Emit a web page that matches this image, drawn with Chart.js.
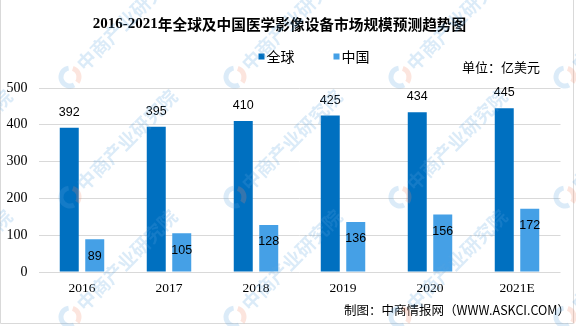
<!DOCTYPE html>
<html>
<head>
<meta charset="utf-8">
<script src="https://cdn.jsdelivr.net/npm/chart.js@4"></script>
<style>
  html, body { margin: 0; padding: 0; background: #fff; }
  #chart { display: block; }
</style>
</head>
<body>
<canvas id="chart" width="576" height="326"></canvas>
<script>
// Market size, 100 million USD
const years = ['2016', '2017', '2018', '2019', '2020', '2021E'];
const globalValues = [392, 395, 410, 425, 434, 445];
const chinaValues = [89, 105, 128, 136, 156, 172];
const seriesNames = ['全球', '中国'];
const yTicks = [0, 100, 200, 300, 400, 500];

const titleNum = '2016-2021';
const titleText = '年全球及中国医学影像设备市场规模预测趋势图';
const unitText = '单位：亿美元';
const sourceText = '制图：中商情报网（WWW.ASKCI.COM）';
const watermarkText = '中商产业研究院';

const colors = ['#0070C0', '#45A0E6'];
const cjk = '"Noto Sans CJK SC", "Microsoft YaHei", sans-serif';

// Title, legend, unit note, source line and frame
const decorPlugin = {
    id: 'decor',
    afterDraw(chart) {
        const ctx = chart.ctx;
        ctx.save();

        // title: number part and text part with different fonts
        ctx.textBaseline = 'middle';
        ctx.fillStyle = '#000';
        const numFont = 'bold 15px "Liberation Serif", serif';
        const txtFont = 'bold 14.7px ' + cjk;
        ctx.font = numFont;
        const w1 = ctx.measureText(titleNum).width;
        ctx.font = txtFont;
        const w2 = ctx.measureText(titleText).width;
        let tx = 279.5 - (w1 + w2) / 2;
        ctx.textAlign = 'left';
        ctx.font = numFont;
        ctx.fillText(titleNum, tx, 24);
        ctx.font = txtFont;
        ctx.fillText(titleText, tx + w1, 24);

        // legend
        const legendX = [258.5, 333.5];
        ctx.font = '14px ' + cjk;
        seriesNames.forEach((name, i) => {
            ctx.fillStyle = colors[i];
            ctx.fillRect(legendX[i], 53.5, 6, 6);
            ctx.fillStyle = '#000';
            ctx.fillText(name, legendX[i] + 8, 57);
        });

        // unit
        ctx.font = '13px ' + cjk;
        ctx.fillText(unitText, 462, 67);

        // source
        ctx.font = '12.5px ' + cjk;
        ctx.textAlign = 'right';
        ctx.fillText(sourceText, 570, 310);

        // frame
        ctx.strokeStyle = '#d9d9d9';
        ctx.lineWidth = 1;
        ctx.beginPath();
        ctx.moveTo(0.5, 0);
        ctx.lineTo(0.5, 323.5);
        ctx.lineTo(573.5, 323.5);
        ctx.lineTo(573.5, 0);
        ctx.stroke();

        ctx.restore();
    }
};

// Value labels: global above the bar, China inside near the top
const valueLabelPlugin = {
    id: 'valueLabels',
    afterDatasetsDraw(chart) {
        const ctx = chart.ctx;
        ctx.save();
        ctx.font = '12.5px "Liberation Sans", Arial, sans-serif';
        ctx.fillStyle = '#000';
        ctx.textAlign = 'center';
        ctx.textBaseline = 'middle';
        chart.data.datasets.forEach((ds, di) => {
            chart.getDatasetMeta(di).data.forEach((bar, i) => {
                const y = di === 0 ? bar.y - 15.5 : bar.y + 17;
                ctx.fillText(String(ds.data[i]), bar.x, y);
            });
        });
        ctx.restore();
    }
};

// Faint tiled watermark
const watermarkPlugin = {
    id: 'watermark',
    afterDraw(chart) {
        const ctx = chart.ctx;
        ctx.save();
        for (let i = 0; i < 5; i++) {
            for (let j = -1; j < 3; j++) {
                const x = -95 + 165 * i;
                const y = 77 + 120 * j;
                // logo
                ctx.globalAlpha = 0.22;
                ctx.lineWidth = 5;
                ctx.strokeStyle = '#5aa6e0';
                ctx.beginPath();
                ctx.arc(x, y, 9, Math.PI * 0.35, Math.PI * 1.45);
                ctx.stroke();
                ctx.strokeStyle = '#f08a6a';
                ctx.beginPath();
                ctx.arc(x, y, 9, Math.PI * 1.6, Math.PI * 2.2);
                ctx.stroke();
                // text
                ctx.translate(x, y);
                ctx.rotate(-Math.PI / 4);
                ctx.fillStyle = '#5aa6e0';
                ctx.font = 'bold 19px ' + cjk;
                ctx.textAlign = 'left';
                ctx.textBaseline = 'middle';
                ctx.fillText(watermarkText, 14, 0);
                ctx.setTransform(1, 0, 0, 1, 0, 0);
            }
        }
        ctx.restore();
    }
};

const ctx = document.getElementById('chart').getContext('2d');
new Chart(ctx, {
    type: 'bar',
    data: {
        labels: years,
        datasets: [
            { label: seriesNames[0], data: globalValues, backgroundColor: colors[0] },
            { label: seriesNames[1], data: chinaValues, backgroundColor: colors[1] }
        ]
    },
    options: {
        responsive: false,
        animation: false,
        devicePixelRatio: 1,
        datasets: {
            bar: { categoryPercentage: 0.586, barPercentage: 0.745 }
        },
        layout: { padding: { left: 0, right: 15.5, top: 88, bottom: 0 } },
        scales: {
            x: {
                grid: { display: false, drawTicks: false },
                border: { display: false },
                ticks: {
                    color: '#000',
                    padding: 8,
                    font: { family: '"Liberation Serif", serif', size: 13.5 }
                },
                afterFit(scale) { scale.height = 54; }
            },
            y: {
                min: 0,
                max: 500,
                afterBuildTicks(scale) { scale.ticks = yTicks.map(v => ({ value: v })); },
                grid: { color: '#d9d9d9', lineWidth: 1, drawTicks: false },
                border: { display: false },
                ticks: {
                    color: '#000',
                    padding: 11,
                    font: { family: '"Liberation Serif", serif', size: 14 }
                },
                afterFit(scale) { scale.width = 38.5; }
            }
        },
        plugins: {
            legend: { display: false },
            title: { display: false },
            tooltip: { enabled: false }
        }
    },
    plugins: [valueLabelPlugin, decorPlugin, watermarkPlugin]
});
</script>
</body>
</html>
